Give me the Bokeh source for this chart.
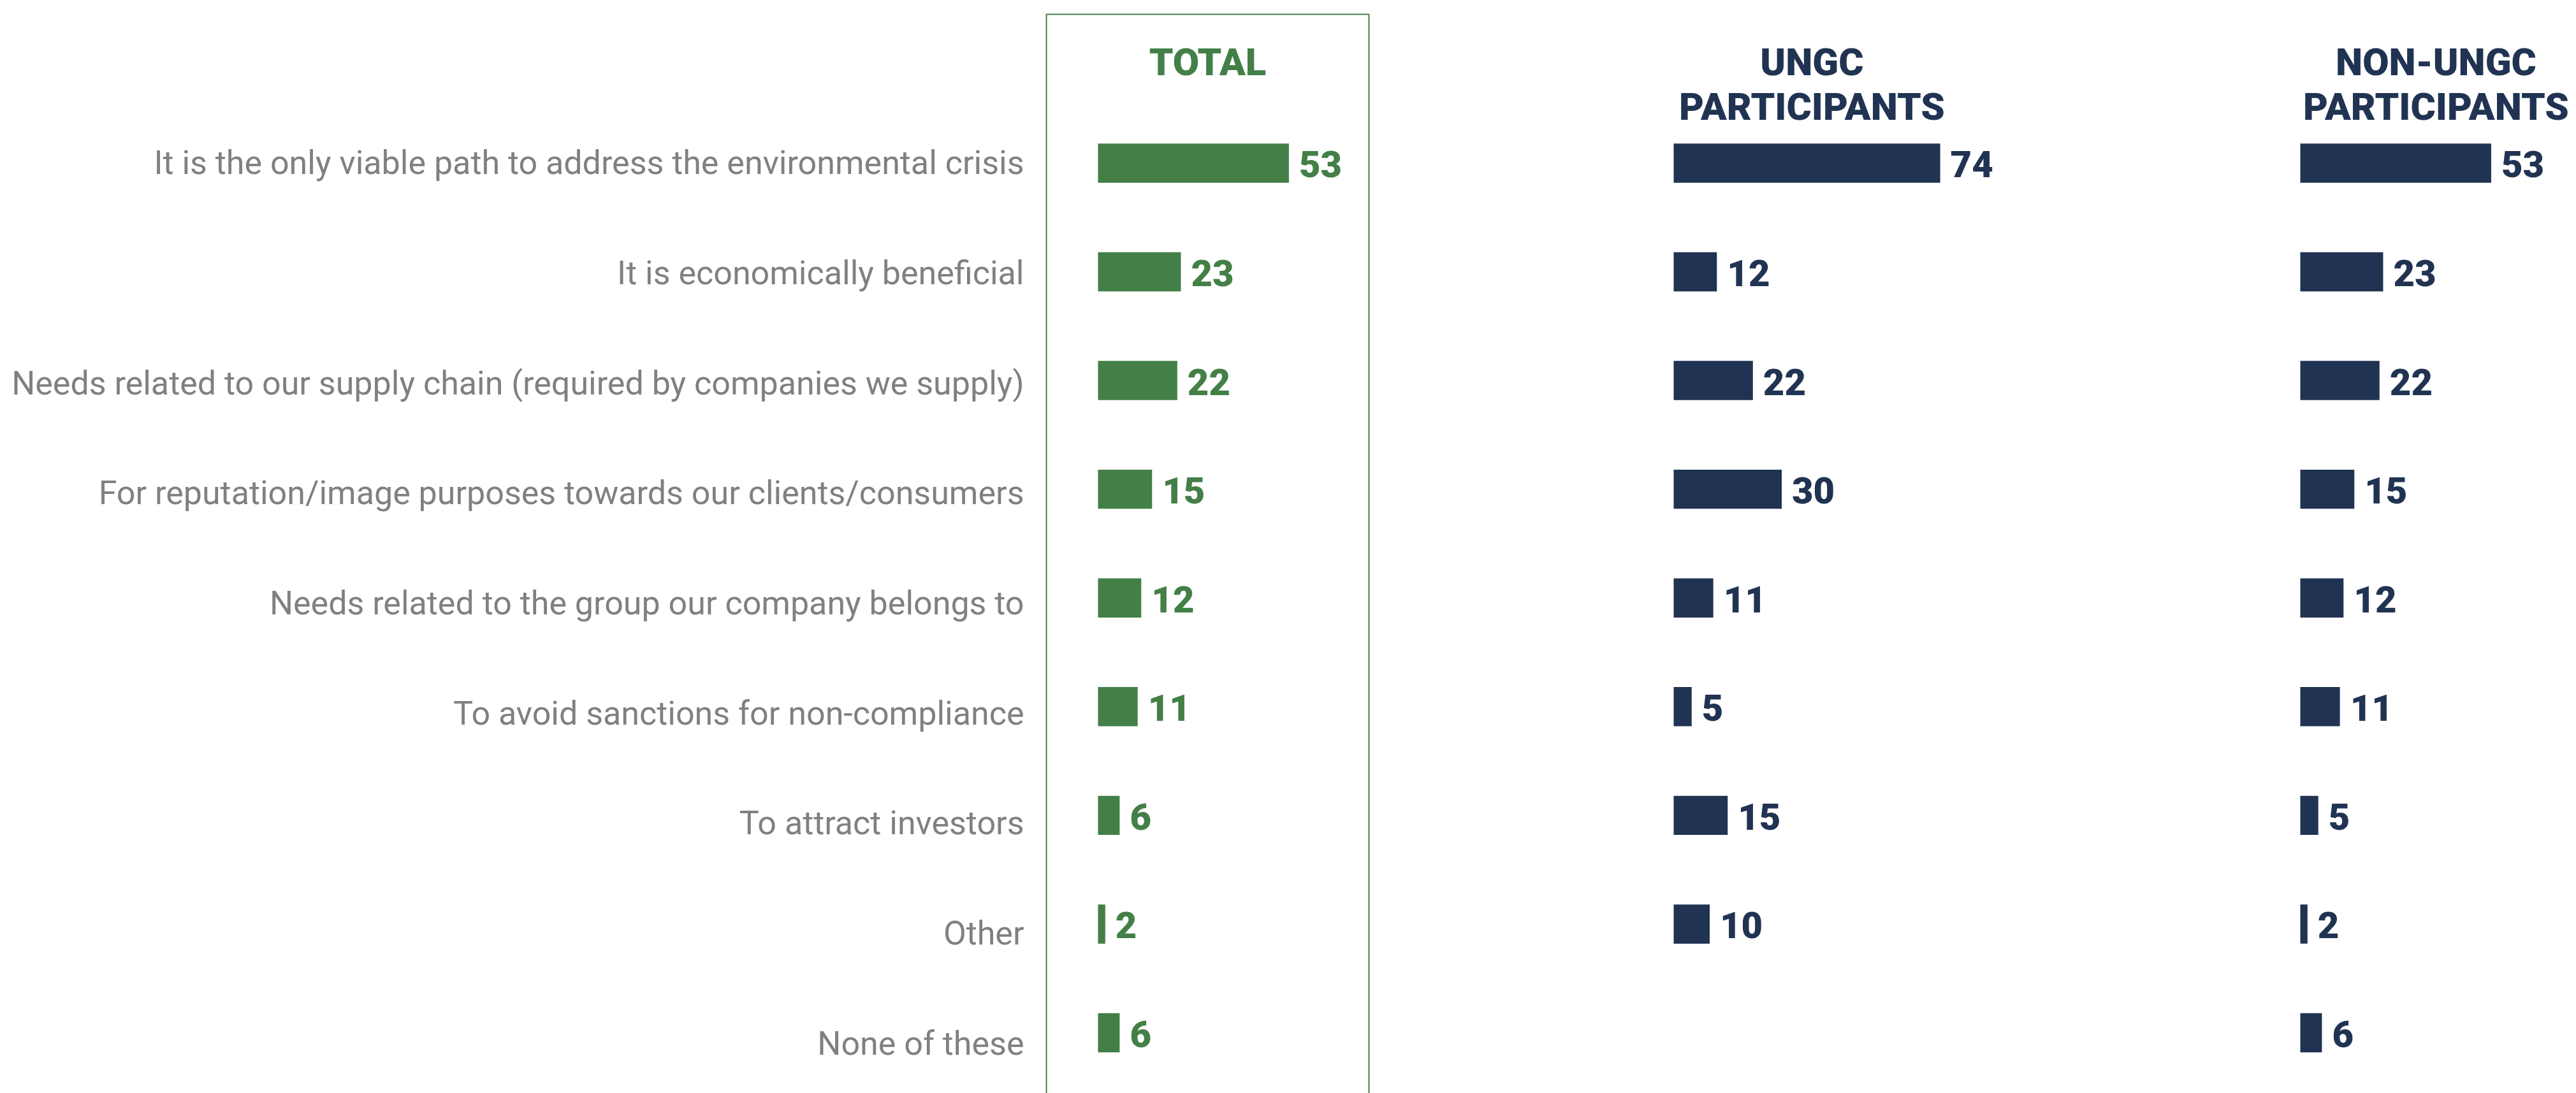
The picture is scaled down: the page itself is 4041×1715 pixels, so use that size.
from bokeh.plotting import figure
from bokeh.layouts import row
from bokeh.models import Range1d, FixedTicker, Label
from bokeh.embed import file_html
from bokeh.resources import INLINE
from bokeh.core.properties import value

# ---------------- data ----------------
categories = [
    "It is the only viable path to address the environmental crisis",
    "It is economically beneficial",
    "Needs related to our supply chain (required by companies we supply)",
    "For reputation/image purposes towards our clients/consumers",
    "Needs related to the group our company belongs to",
    "To avoid sanctions for non-compliance",
    "To attract investors",
    "Other",
    "None of these",
]
total = [53, 23, 22, 15, 12, 11, 6, 2, 6]
ungc_categories = categories[:8]
ungc = [74, 12, 22, 30, 11, 5, 15, 10]
non_ungc = [53, 23, 22, 15, 12, 11, 5, 2, 6]

# ---------------- style / layout ----------------
GREEN = "#437f46"
NAVY = "#213352"
GRAY = "#808080"
FONT = "Roboto"
HEAVY = "'Roboto Black', Roboto"
PXU = 5.65          # pixels per percentage point
ROW = 170.6         # pixels per row
LABEL_STRETCH = 1.0121  # category labels drift slightly lower than the bars
FIG_H = 1715
TOP = 18

y_range = Range1d(start=8.557, end=-1.392)


def ypos(page_y):
    return (page_y - 255.5) / ROW


def make_fig(width, left_px, frame_w, min_left):
    p = figure(width=width, height=FIG_H,
               x_range=Range1d(-left_px / PXU, (frame_w - left_px) / PXU),
               y_range=y_range, output_backend="svg", toolbar_location=None,
               x_axis_location=None, y_axis_location=None if min_left == 0 else "left",
               min_border_left=min_left, min_border_right=0,
               min_border_top=TOP, min_border_bottom=0)
    p.grid.visible = False
    p.outline_line_color = None
    p.background_fill_color = "white"
    p.border_fill_color = "white"
    return p


def add_bars(p, cats, vals, color):
    ys = [categories.index(c) for c in cats]
    p.hbar(y=ys, left=0, right=vals, height=0.36, fill_color=color, line_color=None)
    p.text(x=vals, y=ys, text=[str(v) for v in vals], x_offset=16, y_offset=2,
           text_align="left", text_baseline="middle", text_color=color,
           text_font=value(HEAVY), text_font_style="bold", text_font_size="58px")


def header(p, x, lines, color):
    baselines = [97, 167]
    for i, txt in enumerate(lines):
        p.add_layout(Label(x=x, y=ypos(baselines[i]), text=txt, text_align="center",
                           text_baseline="alphabetic", text_color=color,
                           text_font=HEAVY, text_font_style="bold",
                           text_font_size="60px"))


# ---- TOTAL panel (with category axis) ----
A_LEFT = 1636
A_FRAME = 516
pa = make_fig(A_LEFT + A_FRAME, 86, A_FRAME, A_LEFT)
label_ticks = [i * LABEL_STRETCH for i in range(len(categories))]
ax = pa.yaxis[0]
ax.ticker = FixedTicker(ticks=label_ticks)
ax.major_label_overrides = {t: c for t, c in zip(label_ticks, categories)}
ax.major_label_text_font = FONT
ax.major_label_text_font_size = "52px"
ax.major_label_text_color = GRAY
ax.major_label_standoff = 30
ax.axis_line_color = None
ax.major_tick_line_color = None
ax.minor_tick_line_color = None
ax.major_tick_out = 0
ax.major_tick_in = 0

box_left = (1641 - 1722) / PXU
box_right = (2147 - 1722) / PXU
pa.quad(left=[box_left], right=[box_right], top=[ypos(22)], bottom=[30],
        fill_color=None, line_color=GREEN, line_width=2)
add_bars(pa, categories, total, GREEN)
header(pa, (box_left + box_right) / 2, ["TOTAL"], GREEN)

# ---- UNGC panel ----
B_FRAME = 1248
pb = make_fig(B_FRAME, 473, B_FRAME, 0)
add_bars(pb, ungc_categories, ungc, NAVY)
header(pb, (2842 - 2625) / PXU, ["UNGC", "PARTICIPANTS"], NAVY)

# ---- NON-UNGC panel ----
C_FRAME = 641
pc = make_fig(C_FRAME, 208, C_FRAME, 0)
add_bars(pc, categories, non_ungc, NAVY)
header(pc, (3821 - 3608) / PXU, ["NON-UNGC", "PARTICIPANTS"], NAVY)

layout = row(pa, pb, pc, spacing=0)
open("out.html", "w").write(file_html(layout, INLINE))
